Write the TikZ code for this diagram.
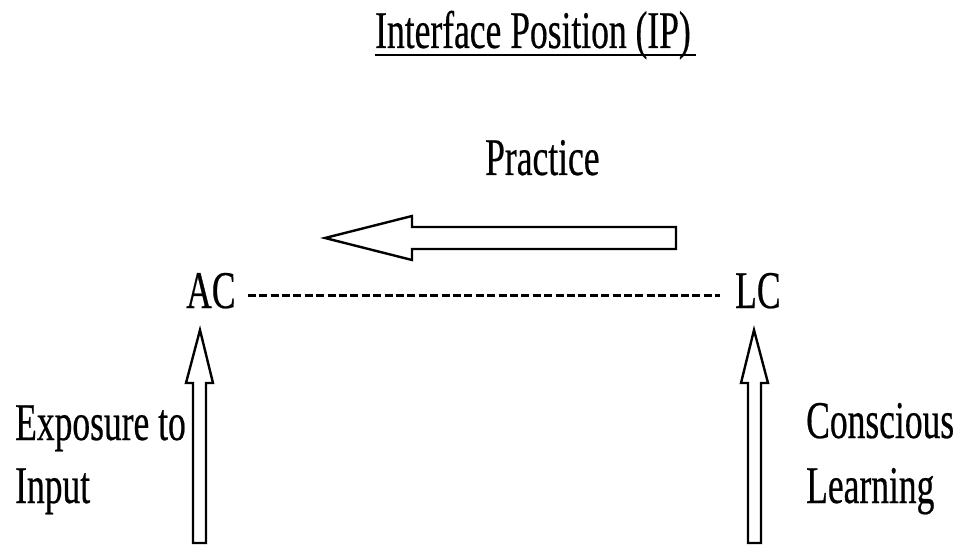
\documentclass[tikz,border=0pt]{standalone}
\usepackage{fontspec}
\newfontfamily\narrowserif[FakeStretch=0.67, FakeBold=0.4]{Liberation Serif}
\tikzset{
  label text/.style={inner sep=0pt, anchor=base west, font=\narrowserif\fontsize{53}{63}\selectfont},
  block arrow/.style={draw=black, line width=2.4pt, fill=white, line join=miter},
  dashline/.style={line width=3.2pt, dash pattern=on 8pt off 3.4pt}
}
\begin{document}
\begin{tikzpicture}[x=1pt, y=-1pt]
  \useasboundingbox (0,0) rectangle (963,545);

  % heading with its underline
  \node[label text] (title) at (375,48) {Interface Position (IP)};
  \draw[line width=2.2pt] (375,55) -- (696,55);

  % practice: block arrow pointing left
  \node[label text] (practice) at (485,175) {Practice};
  \draw[block arrow] (325,238) -- (412,216) -- (412,227) -- (676,227)
        -- (676,249) -- (412,249) -- (412,260) -- cycle;

  % the two kinds of competence, joined by a dashed line
  \node[label text] (ac) at (186,308) {AC};
  \node[label text] (lc) at (735,308) {LC};
  \draw[dashline, shorten <=12pt, shorten >=15pt]
        ([yshift=-5pt]ac.east) -- ([yshift=-5pt]lc.west);

  % upward block arrows into AC and LC
  \draw[block arrow] (200,330) -- (186,383) -- (193,383) -- (193,543)
        -- (206,543) -- (206,383) -- (213,383) -- cycle;
  \draw[block arrow] (754,330) -- (741,383) -- (748,383) -- (748,543)
        -- (761,543) -- (761,383) -- (768,383) -- cycle;

  % sources
  \node[label text] (exposure) at (15,440) {Exposure to};
  \node[label text] (input) at (15,503) {Input};
  \node[label text] (conscious) at (806,438) {Conscious};
  \node[label text] (learning) at (806,503) {Learning};
\end{tikzpicture}
\end{document}
